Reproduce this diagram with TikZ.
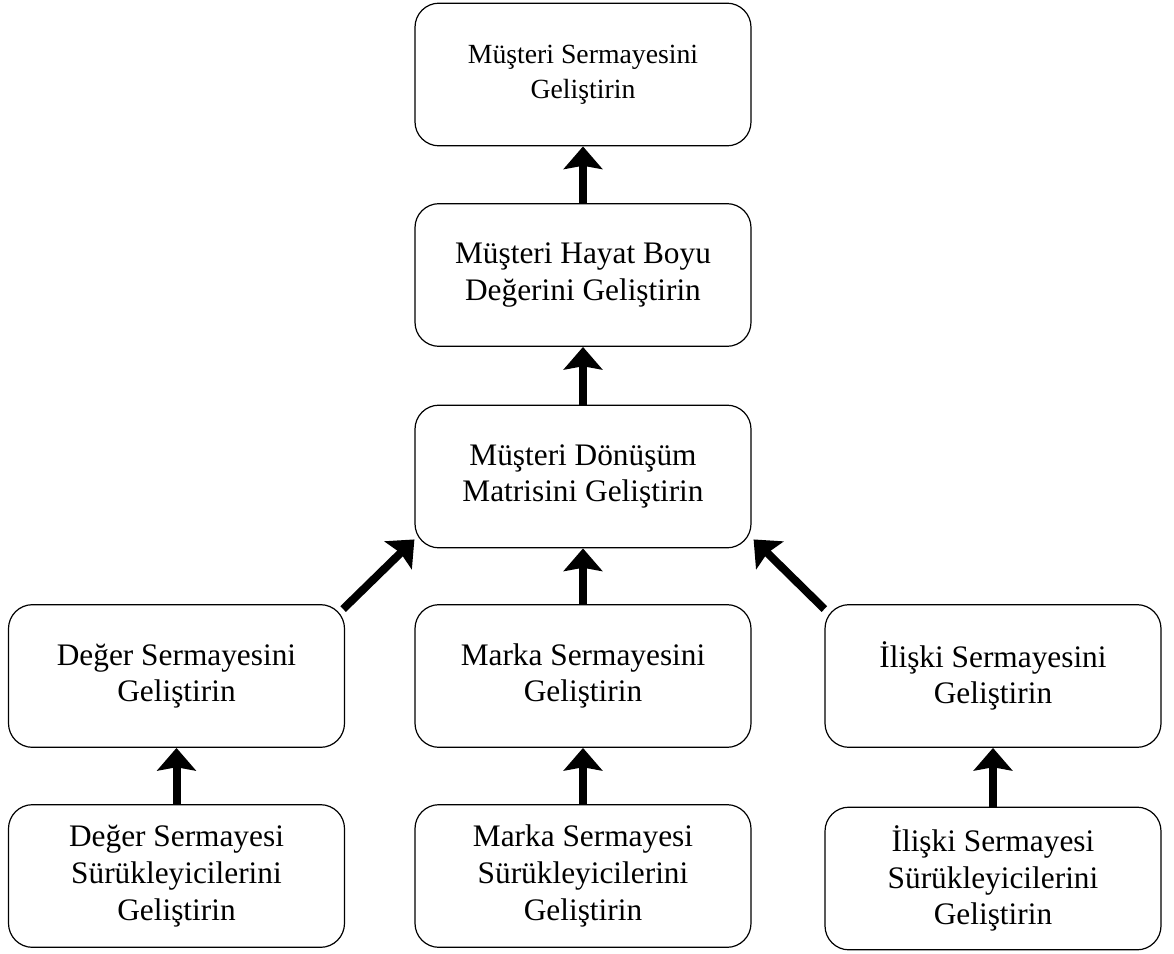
\documentclass[tikz,border=0pt]{standalone}
\usepackage{fontspec}
\setmainfont{Liberation Serif}
\usetikzlibrary{arrows.meta}

\begin{document}
\begin{tikzpicture}[
  x=0.75pt, y=-0.75pt,
  box/.style={draw=black, line width=0.9pt, rounded corners=18pt,
    minimum width=252pt, minimum height=107pt, inner sep=0pt,
    align=center, font=\fontsize{23.5}{27.5}\selectfont},
  topbox/.style={box, font=\fontsize{20.8}{26}\selectfont},
  flow/.style={line width=6pt,
    -{Stealth[length=17pt, width=29pt, inset=2.5pt]}}
]
\useasboundingbox (0,0) rectangle (1174,953);

% central column
\node[topbox] (m1) at (583,74.5)  {Müşteri Sermayesini\\Geliştirin};
\node[box]    (m2) at (583,275)   {Müşteri Hayat Boyu\\Değerini Geliştirin};
\node[box]    (m3) at (583,476.5) {Müşteri Dönüşüm\\Matrisini Geliştirin};
\node[box]    (m4) at (583,676)   {Marka Sermayesini\\Geliştirin};
\node[box]    (m5) at (583,876)   {Marka Sermayesi\\Sürükleyicilerini\\Geliştirin};

% left column
\node[box] (l4) at (176.5,676) {Değer Sermayesini\\Geliştirin};
\node[box] (l5) at (176.5,876) {Değer Sermayesi\\Sürükleyicilerini\\Geliştirin};

% right column
\node[box] (r4) at (993,676)   {İlişki Sermayesini\\Geliştirin};
\node[box] (r5) at (993,878.5) {İlişki Sermayesi\\Sürükleyicilerini\\Geliştirin};

% vertical links
\draw[flow] (m2.north) -- (m1.south);
\draw[flow] (m3.north) -- (m2.south);
\draw[flow] (m4.north) -- (m3.south);
\draw[flow] (m5.north) -- (m4.south);
\draw[flow] (l5.north) -- (l4.south);
\draw[flow] (r5.north) -- (r4.south);

% diagonal links into the conversion matrix
\draw[flow] ([xshift=-1.5pt,yshift=-3.75pt]l4.north east) -- ([yshift=6.75pt]m3.south west);
\draw[flow] ([yshift=-3.75pt]r4.north west) -- ([xshift=1.5pt,yshift=6.75pt]m3.south east);
\end{tikzpicture}
\end{document}
